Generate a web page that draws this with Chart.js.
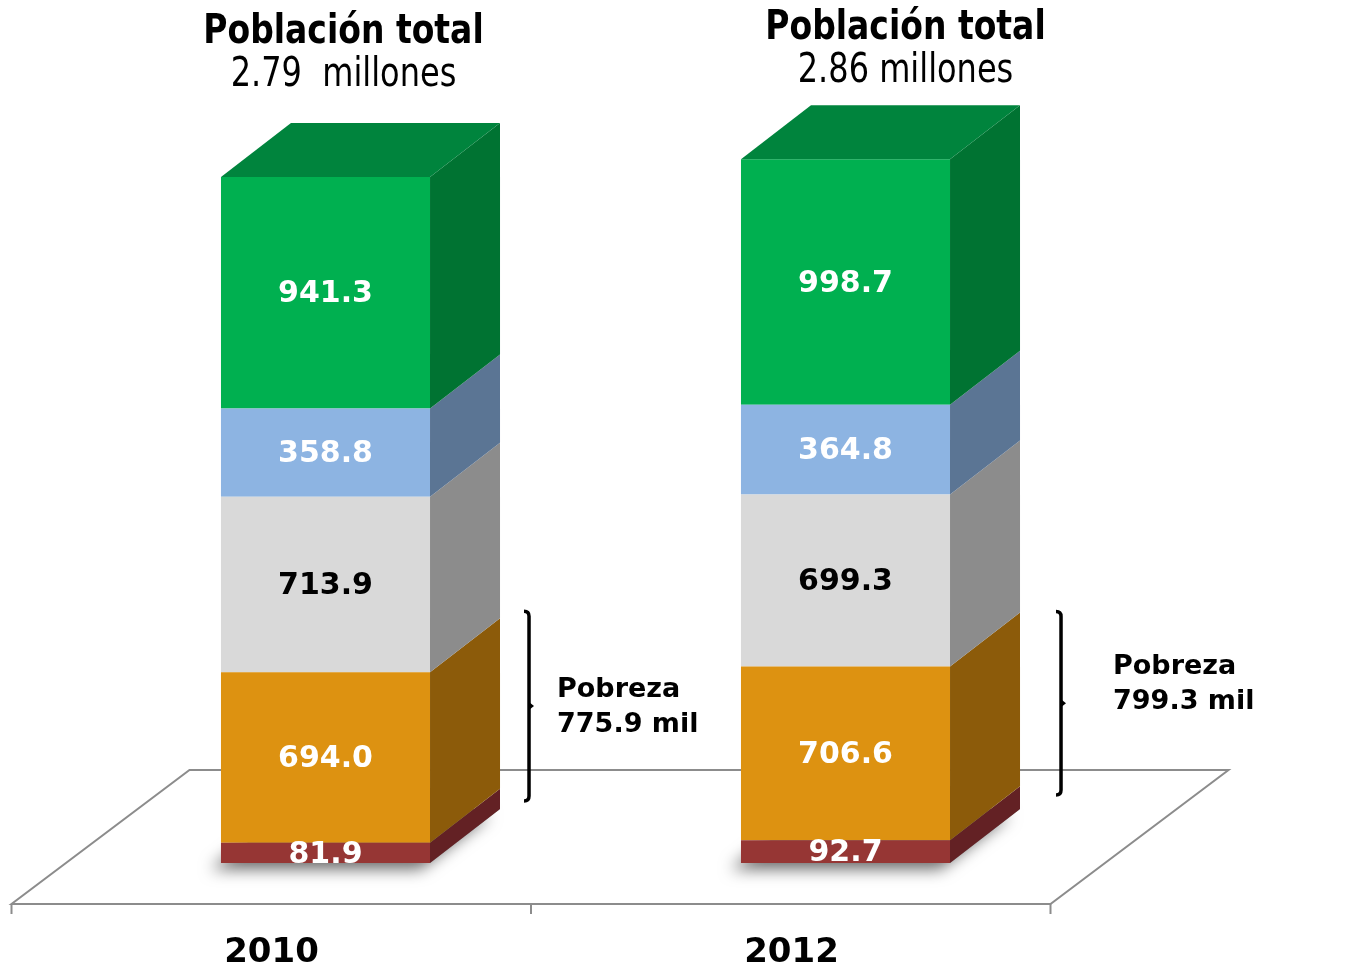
<!DOCTYPE html>
<html>
<head>
<meta charset="utf-8">
<script src="https://cdn.jsdelivr.net/npm/chart.js@4.4.1/dist/chart.umd.min.js"></script>
<style>
  html, body { margin: 0; padding: 0; background: #fff; }
  #wrap { width: 1348px; height: 968px; }
</style>
</head>
<body>
<div id="wrap"><canvas id="chart" width="1348" height="968"></canvas></div>
<script>
// datos (miles de personas)
const categories = ["2010", "2012"];
const pobrezaExtrema = [81.9, 92.7];
const pobrezaModerada = [694.0, 706.6];
const vulnerablesCarencias = [713.9, 699.3];
const vulnerablesIngresos = [358.8, 364.8];
const noPobres = [941.3, 998.7];
const totalTitles = ["Población total", "Población total"];
const totalLines = ["2.79  millones", "2.86 millones"];
const pobrezaLabels = ["Pobreza", "Pobreza"];
const pobrezaTotals = ["775.9 mil", "799.3 mil"];

const DEPTH_X = 70;
const DEPTH_Y = -54;

const series = [
  { label: "Pobreza extrema", data: pobrezaExtrema, front: "#963634", side: "#632124", text: "#fff" },
  { label: "Pobreza moderada", data: pobrezaModerada, front: "#DD9211", side: "#8C5B0A", text: "#fff" },
  { label: "Vulnerables por carencias", data: vulnerablesCarencias, front: "#D9D9D9", side: "#8C8C8C", text: "#000" },
  { label: "Vulnerables por ingresos", data: vulnerablesIngresos, front: "#8DB4E2", side: "#5B7594", text: "#fff" },
  { label: "No pobres y no vulnerables", data: noPobres, front: "#00B050", side: "#007332", top: "#00843D", text: "#fff" }
];

function poly(ctx, pts, color) {
  ctx.beginPath();
  ctx.moveTo(pts[0][0], pts[0][1]);
  for (let i = 1; i < pts.length; i++) ctx.lineTo(pts[i][0], pts[i][1]);
  ctx.closePath();
  ctx.fillStyle = color;
  ctx.fill();
}

function stretchedText(ctx, text, x, y, font, sy) {
  ctx.save();
  ctx.translate(x, y);
  ctx.scale(1, sy);
  ctx.font = font;
  ctx.fillText(text, 0, 0);
  ctx.restore();
}

const floorPlugin = {
  id: "floor3d",
  beforeDatasetsDraw(chart) {
    const ctx = chart.ctx;
    const area = chart.chartArea;
    const y0 = chart.scales.y.getPixelForValue(0);
    const fl = area.left - 54, fr = area.right - 55, fy = y0 + 41;
    const bx = 178, by = -134;

    ctx.save();
    ctx.strokeStyle = "#8C8C8C";
    ctx.lineWidth = 2;
    ctx.beginPath();
    ctx.moveTo(fl, fy);
    ctx.lineTo(fr, fy);
    ctx.lineTo(fr + bx, fy + by);
    ctx.lineTo(fl + bx, fy + by);
    ctx.closePath();
    ctx.stroke();
    // marcas de categoria
    const n = categories.length;
    for (let i = 0; i <= n; i++) {
      const x = fl + (fr - fl) * i / n;
      ctx.beginPath();
      ctx.moveTo(x, fy);
      ctx.lineTo(x, fy + 10);
      ctx.stroke();
    }

    // sombra bajo las barras
    const meta = chart.getDatasetMeta(0);
    meta.data.forEach(bar => {
      const l = bar.x - bar.width / 2, r = bar.x + bar.width / 2;
      ctx.save();
      ctx.shadowColor = "rgba(0,0,0,0.6)";
      ctx.shadowBlur = 16;
      ctx.shadowOffsetX = -10;
      ctx.shadowOffsetY = 6;
      poly(ctx, [[l, y0], [r, y0], [r + DEPTH_X, y0 + DEPTH_Y], [l + DEPTH_X, y0 + DEPTH_Y]], "#888");
      ctx.restore();
    });
    ctx.restore();
  },
  afterDatasetsDraw(chart) {
    const ctx = chart.ctx;
    ctx.save();
    series.forEach((s, di) => {
      const meta = chart.getDatasetMeta(di);
      meta.data.forEach(bar => {
        const l = bar.x - bar.width / 2, r = bar.x + bar.width / 2;
        const top = bar.y, base = bar.base;
        poly(ctx, [[r, top], [r + DEPTH_X, top + DEPTH_Y], [r + DEPTH_X, base + DEPTH_Y], [r, base]], s.side);
        if (s.top) {
          poly(ctx, [[l, top], [l + DEPTH_X, top + DEPTH_Y], [r + DEPTH_X, top + DEPTH_Y], [r, top]], s.top);
        }
      });
    });
    // etiquetas de valor
    ctx.font = "bold 30px 'DejaVu Sans'";
    ctx.textAlign = "center";
    ctx.textBaseline = "middle";
    series.forEach((s, di) => {
      const meta = chart.getDatasetMeta(di);
      meta.data.forEach((bar, i) => {
        ctx.fillStyle = s.text;
        ctx.fillText(s.data[i].toFixed(1), bar.x, (bar.y + bar.base) / 2 + 2);
      });
    });
    ctx.restore();
  },
  afterDraw(chart) {
    const ctx = chart.ctx;
    const y = chart.scales.y;
    const meta = chart.getDatasetMeta(0);
    const titleShift = [18, 60];
    const titleBase = [43, 39];
    const bracketShift = [29, 41];
    const bracketTop = [-61, -55];
    const bracketBottom = [-62, -68];
    const textShift = [28, 52];
    const textBase = [-9, -29];

    ctx.save();
    ctx.fillStyle = "#000";
    ctx.textAlign = "center";
    ctx.textBaseline = "alphabetic";
    meta.data.forEach((bar, i) => {
      const cx = bar.x + titleShift[i];
      stretchedText(ctx, totalTitles[i], cx, titleBase[i], "bold 33px 'DejaVu Sans'", 1.25);
      stretchedText(ctx, totalLines[i], cx, titleBase[i] + 43, "32px 'DejaVu Sans'", 1.25);
    });

    // llaves de pobreza (extrema + moderada)
    ctx.strokeStyle = "#000";
    ctx.lineWidth = 3.5;
    ctx.lineCap = "butt";
    meta.data.forEach((bar, i) => {
      const pob = pobrezaExtrema[i] + pobrezaModerada[i];
      const x = bar.x + bar.width / 2 + DEPTH_X + bracketShift[i];
      const yb = y.getPixelForValue(0) + bracketBottom[i];
      const yt = y.getPixelForValue(pob) + bracketTop[i];
      const ym = (yt + yb) / 2;
      ctx.beginPath();
      ctx.moveTo(x - 5, yt);
      ctx.quadraticCurveTo(x, yt, x, yt + 5);
      ctx.lineTo(x, yb - 5);
      ctx.quadraticCurveTo(x, yb, x - 5, yb);
      ctx.stroke();
      ctx.beginPath();
      ctx.moveTo(x, ym - 4);
      ctx.lineTo(x + 5, ym);
      ctx.lineTo(x, ym + 4);
      ctx.closePath();
      ctx.fillStyle = "#000";
      ctx.fill();

      ctx.textAlign = "left";
      ctx.font = "bold 27px 'DejaVu Sans'";
      ctx.fillText(pobrezaLabels[i], x + textShift[i], ym + textBase[i]);
      ctx.fillText(pobrezaTotals[i], x + textShift[i], ym + textBase[i] + 35);
    });
    ctx.restore();
  }
};

new Chart(document.getElementById("chart").getContext("2d"), {
  type: "bar",
  data: {
    labels: categories,
    datasets: series.map(s => ({
      label: s.label,
      data: s.data,
      backgroundColor: s.front,
      borderWidth: 0,
      barPercentage: 0.402,
      categoryPercentage: 1
    }))
  },
  options: {
    responsive: false,
    animation: false,
    layout: { padding: { left: 65.5, right: 242.5, top: 125.3, bottom: 0 } },
    plugins: { legend: { display: false }, tooltip: { enabled: false } },
    scales: {
      x: {
        stacked: true,
        grid: { display: false },
        border: { display: false },
        ticks: {
          color: "#000",
          font: { family: "DejaVu Sans", size: 34, weight: "bold" },
          labelOffset: -54,
          padding: 62
        },
        afterFit(scale) { scale.height = 105; }
      },
      y: {
        stacked: true,
        display: false,
        min: 0,
        max: 3000
      }
    }
  },
  plugins: [floorPlugin]
});
</script>
</body>
</html>
